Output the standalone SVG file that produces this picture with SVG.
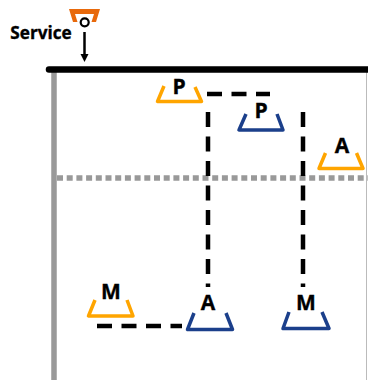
<svg xmlns="http://www.w3.org/2000/svg" width="368" height="380" viewBox="0 0 368 380">
<style>
text{font-family:"Open Sans","Noto Sans",sans-serif;font-weight:700;fill:#000;stroke:#000;stroke-width:.35;text-anchor:middle}
.l{font-size:21px}
.t{fill:none;stroke-width:3.5;stroke-linejoin:round;stroke-linecap:butt}
.o{stroke:#ffa500}
.b{stroke:#1b3f8b}
.d{fill:none;stroke:#000;stroke-width:4.500;stroke-dasharray:15 9.500}
</style>
<rect width="368" height="380" fill="#fff"/>
<g id="frame">
<path d="M54,72V380" fill="none" stroke="#999" stroke-width="5.500"/>
<path d="M366.500,72V380" fill="none" stroke="#bbb" stroke-width="1"/>
<path d="M57,178H368" fill="none" stroke="#999" stroke-width="5.500" stroke-dasharray="6 3.700"/>
<path d="M49,69.500H368" fill="none" stroke="#000" stroke-width="6.500" stroke-linecap="round"/>
</g>
<g id="connectors">
<path class="d" d="M207,94H270"/>
<path class="d" d="M208,112V287"/>
<path class="d" d="M303,112V287"/>
<path class="d" d="M97,326H182"/>
<path d="M84.500,32V56" fill="none" stroke="#000" stroke-width="2.500"/>
<path d="M80.500,54H88.500L84.500,62Z" fill="#000"/>
</g>
<g id="service">
<path d="M69,9H100L96,22H91.500L94,14H75L77.500,22H73Z" fill="#e8690b"/>
<circle cx="84.700" cy="22.300" r="4" fill="#fff" stroke="#000" stroke-width="2.200"/>
<text x="41" y="38.500" style="font-size:17.200px">Service</text>
</g>
<g id="p-orange"><path class="t o" d="M164,86L157.500,101.500H201.500L195,87"/><text class="l" x="179" y="93.500">P</text></g>
<g id="p-blue"><path class="t b" d="M246,114L239,130H283L277,114"/><text class="l" x="261" y="117.500">P</text></g>
<g id="a-orange"><path class="t o" d="M325.500,153L319,168.500H363L356.500,153"/><text class="l" x="342" y="152.500">A</text></g>
<g id="m-orange"><path class="t o" d="M95,300L88.500,316H133L127,300"/><text class="l" x="111" y="298.500">M</text></g>
<g id="a-blue"><path class="t b" d="M194,313L187.500,329.500H232.500L226,313"/><text class="l" x="208" y="309.500">A</text></g>
<g id="m-blue"><path class="t b" d="M289,312L283,328.500H329L322,312"/><text class="l" x="306" y="309.500">M</text></g>
</svg>
